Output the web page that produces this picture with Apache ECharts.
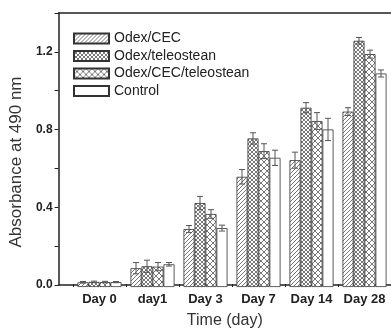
<!DOCTYPE html>
<html><head><meta charset="utf-8">
<script src="https://cdn.jsdelivr.net/npm/echarts@6/dist/echarts.min.js"></script>
<style>html,body{margin:0;padding:0;background:#fff}#c{width:391px;height:334px}</style>
</head><body><div id="c"></div>
<script>
const categories = ['Day 0','day1','Day 3','Day 7','Day 14','Day 28'];
const seriesNames = ['Odex/CEC','Odex/teleostean','Odex/CEC/teleostean','Control'];
const odexCEC      = [0.024, 0.096, 0.296, 0.563, 0.648, 0.896];
const odexTele     = [0.026, 0.106, 0.429, 0.759, 0.916, 1.258];
const odexCECTele  = [0.025, 0.104, 0.373, 0.694, 0.848, 1.190];
const control      = [0.025, 0.116, 0.301, 0.660, 0.805, 1.091];
const errCEC       = [0.004, 0.029, 0.018, 0.037, 0.041, 0.020];
const errTele      = [0.004, 0.031, 0.034, 0.029, 0.026, 0.017];
const errCECTele   = [0.004, 0.021, 0.022, 0.038, 0.043, 0.020];
const errControl   = [0.003, 0.009, 0.015, 0.039, 0.057, 0.018];
const yTicks = [0.0, 0.4, 0.8, 1.2];

const values = [odexCEC, odexTele, odexCECTele, control];
const errs = [errCEC, errTele, errCECTele, errControl];

function pattern(kind){
  const s = kind==='diag'?4:(kind==='fine'?4:6);
  const c = document.createElement('canvas'); c.width=s; c.height=s;
  const g = c.getContext('2d');
  g.fillStyle='#fff'; g.fillRect(0,0,s,s);
  g.strokeStyle='#555'; g.lineWidth=0.8;
  g.beginPath();
  g.moveTo(0,s); g.lineTo(s,0);
  g.moveTo(-1,1); g.lineTo(1,-1);
  g.moveTo(s-1,s+1); g.lineTo(s+1,s-1);
  if(kind!=='diag'){
    g.moveTo(0,0); g.lineTo(s,s);
    g.moveTo(-1,s-1); g.lineTo(1,s+1);
    g.moveTo(s-1,-1); g.lineTo(s+1,1);
  }
  g.stroke();
  return {image:c, repeat:'repeat'};
}
const fills = [pattern('diag'), pattern('fine'), pattern('coarse'), '#fff'];
const BW = 11;

const chart = echarts.init(document.getElementById('c'), null, {renderer:'canvas'});
const series = [];
seriesNames.forEach((n,i)=>{
  series.push({
    name:n, type:'bar', xAxisIndex:2, yAxisIndex:1,
    barWidth:BW, barGap:'0%',
    data: values[i],
    itemStyle:{color:fills[i], borderColor:'#333', borderWidth:0.8},
    emphasis:{disabled:true}, animation:false
  });
});
seriesNames.forEach((n,i)=>{
  series.push({
    type:'custom', xAxisIndex:2, yAxisIndex:1, animation:false, silent:true,
    data: values[i].map((v,k)=>[k, v-errs[i][k], v+errs[i][k]]),
    renderItem:(params, api)=>{
      const off = (i-1.5)*BW;
      const hi = api.coord([api.value(0), api.value(2)]);
      const lo = api.coord([api.value(0), api.value(1)]);
      const x = hi[0]+off;
      const st = {stroke:'#555', lineWidth:1};
      return {type:'group', children:[
        {type:'line', shape:{x1:x,y1:hi[1],x2:x,y2:lo[1]}, style:st},
        {type:'line', shape:{x1:x-3,y1:hi[1],x2:x+3,y2:hi[1]}, style:st},
        {type:'line', shape:{x1:x-3,y1:lo[1],x2:x+3,y2:lo[1]}, style:st}
      ]};
    },
    z:3
  });
});

chart.setOption({
  backgroundColor:'#fff',
  animation:false,
  textStyle:{fontFamily:'Liberation Sans, Arial, sans-serif'},
  grid:[
    {left:57, top:13, right:0, bottom:47},
    {left:73, top:13, width:321, bottom:47}
  ],
  legend:{
    data:seriesNames.map(n=>({name:n, icon:'rect'})), orient:'vertical', left:68, top:26.5,
    itemWidth:35, itemHeight:10, itemGap:3.5,
    textStyle:{fontSize:14, color:'#222', lineHeight:14},
    selectedMode:false
  },
  xAxis:[
    {gridIndex:0, type:'value', min:0, max:1, position:'bottom',
     axisLine:{show:true, lineStyle:{color:'#222', width:1.5}},
     axisTick:{show:false}, axisLabel:{show:false}, splitLine:{show:false},
     name:'Time (day)', nameLocation:'middle', nameGap:28,
     nameTextStyle:{fontSize:16, color:'#333'}},
    {gridIndex:0, type:'value', min:0, max:1, position:'top',
     axisLine:{show:true, lineStyle:{color:'#222', width:1.5}},
     axisTick:{show:false}, axisLabel:{show:false}, splitLine:{show:false}},
    {gridIndex:1, type:'category', data:categories, boundaryGap:true,
     axisLine:{show:false},
     axisTick:{show:true, inside:true, length:3, lineStyle:{color:'#222'}},
     axisLabel:{interval:0, hideOverlap:false, fontSize:13, fontWeight:'bold', color:'#222', margin:6}}
  ],
  yAxis:[
    {gridIndex:0, type:'value', min:0, max:1.4, interval:0.2,
     axisLine:{show:true, lineStyle:{color:'#222', width:1.5}},
     axisTick:{show:true, inside:false, length:4, lineStyle:{color:'#222'}},
     axisLabel:{fontSize:12, fontWeight:'bold', color:'#222', margin:6,
       formatter:v=>{const m=yTicks.find(t=>Math.abs(t-v)<1e-6); return m===undefined?'':m.toFixed(1);}},
     splitLine:{show:false},
     name:'Absorbance at 490 nm', nameLocation:'middle', nameGap:30.5,
     nameTextStyle:{fontSize:17, color:'#333', padding:[0,26,0,0]}},
    {gridIndex:1, type:'value', min:0, max:1.4, show:false}
  ],
  series: series
});
</script></body></html>
